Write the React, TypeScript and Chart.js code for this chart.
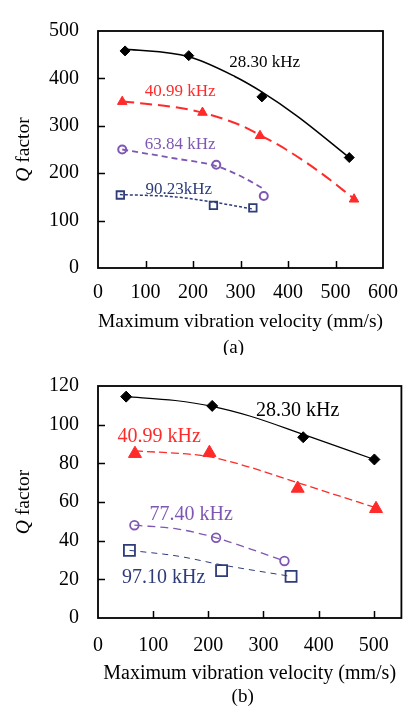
import React, { useEffect, useRef } from "react";
import { Chart, registerables } from "chart.js";

Chart.register(...registerables);

const SERIF = '"Liberation Serif", "Times New Roman", Times, serif';
const BLACK = "#000000";
const RED = "#ff2a2a";
const PURPLE = "#7e57b3";
const NAVY = "#2e3c7a";

// ---------- Panel (a) ----------
const aXTicks = [0, 100, 200, 300, 400, 500, 600];
const aYTicks = [0, 100, 200, 300, 400, 500];

const a28V = [57, 191, 345, 529];
const a28Q = [458, 448, 361, 233];
const a41V = [51, 220, 341, 539];
const a41Q = [351, 328, 279, 145];
const a64V = [51, 249, 349];
const a64Q = [250, 218, 152];
const a90V = [47, 243, 326];
const a90Q = [154, 132, 127];

// trend curves
const a28TrendV = [57, 190, 288, 344, 420, 529];
const a28TrendQ = [462, 446, 404, 372, 320, 233];
const a41TrendV = [51, 197, 298, 340, 396, 470, 539];
const a41TrendQ = [352, 333, 302, 281, 250, 200, 146];
const a64TrendV = [51, 163, 249, 300, 345];
const a64TrendQ = [250, 231, 215, 194, 169];
const a90TrendV = [46, 163, 243, 328];
const a90TrendQ = [155, 150, 139, 124];

// ---------- Panel (b) ----------
const bXTicks = [0, 100, 200, 300, 400, 500];
const bYTicks = [0, 20, 40, 60, 80, 100, 120];

const b28V = [51, 207, 372, 501];
const b28Q = [114.5, 109.7, 93.5, 82];
const b41V = [67, 202, 362, 504];
const b41Q = [85, 85.5, 67, 56.5];
const b77V = [66, 214, 338];
const b77Q = [48, 41.5, 29.5];
const b97V = [57, 224, 350];
const b97Q = [35, 24.5, 21.5];

const b28TrendV = [51, 140, 207, 275, 372, 501];
const b28TrendQ = [114.5, 112.5, 109.5, 104.5, 95, 82];
const b41TrendV = [67, 200, 275, 362, 504];
const b41TrendQ = [86.5, 83.5, 78, 70, 57];
const b77TrendV = [66, 145, 214, 278, 338];
const b77TrendQ = [48, 46, 41.5, 35.5, 29.5];
const b97TrendV = [57, 145, 224, 350];
const b97TrendQ = [35, 32, 27.5, 21.5];

const pts = (xs: number[], ys: number[]) => xs.map((x, i) => ({ x, y: ys[i] }));

type Label = { text: string; x: number; y: number; color: string };

interface PanelCfg {
  height: number;
  xMin: number;
  xMax: number;
  yMin: number;
  yMax: number;
  xTicks: number[];
  yTicks: number[];
  padding: { top: number; right: number; left: number; bottom: number };
  xAxisHeight: number;
  xTickPad: number;
  xTitlePadBottom: number;
  xTitleSize: number;
  labelSize: number;
  labels: Label[];
  caption: string;
  captionY: number;
  datasets: any[];
}

const markers = (
  xs: number[],
  ys: number[],
  style: string,
  r: number,
  color: string,
  hollow: boolean,
  bw: number
) => ({
  type: "scatter",
  data: pts(xs, ys),
  pointStyle: style,
  pointRadius: r,
  pointHoverRadius: r,
  backgroundColor: hollow ? "rgba(0,0,0,0)" : color,
  borderColor: color,
  pointBorderWidth: bw,
  borderWidth: bw,
  showLine: false,
  order: 0,
});

const trend = (xs: number[], ys: number[], color: string, width: number, dash: number[]) => ({
  type: "line",
  data: pts(xs, ys),
  borderColor: color,
  borderWidth: width,
  borderDash: dash,
  pointRadius: 0,
  cubicInterpolationMode: "monotone",
  fill: false,
  order: 1,
});

const panelA: PanelCfg = {
  height: 355,
  xMin: 0,
  xMax: 600,
  yMin: 0,
  yMax: 500,
  xTicks: aXTicks,
  yTicks: aYTicks,
  padding: { top: 17, right: 17, left: 0, bottom: 0 },
  xAxisHeight: 87,
  xTickPad: 13,
  xTitlePadBottom: 21.5,
  xTitleSize: 19.5,
  labelSize: 17,
  labels: [
    { text: "28.30 kHz", x: 351, y: 434, color: BLACK },
    { text: "40.99 kHz", x: 173, y: 373, color: RED },
    { text: "63.84 kHz", x: 173, y: 260, color: PURPLE },
    { text: "90.23kHz", x: 170, y: 166, color: NAVY },
  ],
  caption: "(a)",
  captionY: 348,
  datasets: [
    markers(a28V, a28Q, "rectRot", 5, BLACK, false, 1),
    markers(a41V, a41Q, "triangle", 5.5, RED, false, 1),
    markers(a64V, a64Q, "circle", 4, PURPLE, true, 2),
    markers(a90V, a90Q, "rect", 5.3, NAVY, true, 1.8),
    trend(a28TrendV, a28TrendQ, BLACK, 1.5, []),
    trend(a41TrendV, a41TrendQ, RED, 2, [12, 6]),
    trend(a64TrendV, a64TrendQ, PURPLE, 1.8, [6, 4]),
    trend(a90TrendV, a90TrendQ, NAVY, 1.5, [3, 2]),
  ],
};

const panelB: PanelCfg = {
  height: 351,
  xMin: 0,
  xMax: 550,
  yMin: 0,
  yMax: 120,
  xTicks: bXTicks,
  yTicks: bYTicks,
  padding: { top: 27, right: 8, left: 0, bottom: 0 },
  xAxisHeight: 88,
  xTickPad: 16,
  xTitlePadBottom: 20.5,
  xTitleSize: 20,
  labelSize: 20,
  labels: [
    { text: "28.30 kHz", x: 362, y: 107.4, color: BLACK },
    { text: "40.99 kHz", x: 111, y: 94, color: RED },
    { text: "77.40 kHz", x: 169, y: 53.4, color: PURPLE },
    { text: "97.10 kHz", x: 119, y: 20.8, color: NAVY },
  ],
  caption: "(b)",
  captionY: 342.5,
  datasets: [
    markers(b28V, b28Q, "rectRot", 5.5, BLACK, false, 1),
    markers(b41V, b41Q, "triangle", 7.5, RED, false, 1),
    markers(b77V, b77Q, "circle", 4.3, PURPLE, true, 1.8),
    markers(b97V, b97Q, "rect", 7.8, NAVY, true, 1.8),
    trend(b28TrendV, b28TrendQ, BLACK, 1.2, []),
    trend(b41TrendV, b41TrendQ, RED, 1.3, [8, 4]),
    trend(b77TrendV, b77TrendQ, PURPLE, 1.3, [8, 5]),
    trend(b97TrendV, b97TrendQ, NAVY, 1, [6, 5]),
  ],
};

function makeDecor(cfg: PanelCfg) {
  return {
    id: "decor",
    afterDraw(chart: any) {
      const { ctx, chartArea: a, scales } = chart;
      const xs = scales.x;
      const ys = scales.y;
      ctx.save();
      // inward tick marks
      ctx.strokeStyle = BLACK;
      ctx.lineWidth = 1.5;
      ctx.beginPath();
      xs.ticks.forEach((t: any) => {
        if (t.value <= cfg.xMin || t.value >= cfg.xMax) return;
        const px = Math.round(xs.getPixelForValue(t.value)) + 0.5;
        ctx.moveTo(px, a.bottom);
        ctx.lineTo(px, a.bottom - 7);
      });
      ys.ticks.forEach((t: any) => {
        if (t.value <= cfg.yMin || t.value >= cfg.yMax) return;
        const py = Math.round(ys.getPixelForValue(t.value)) + 0.5;
        ctx.moveTo(a.left, py);
        ctx.lineTo(a.left + 7, py);
      });
      ctx.stroke();
      // frame
      ctx.lineWidth = 1.8;
      ctx.strokeRect(a.left, a.top, a.right - a.left, a.bottom - a.top);

      // series labels
      ctx.textAlign = "center";
      ctx.textBaseline = "middle";
      ctx.font = `${cfg.labelSize}px ${SERIF}`;
      cfg.labels.forEach((l) => {
        ctx.fillStyle = l.color;
        ctx.fillText(l.text, xs.getPixelForValue(l.x), ys.getPixelForValue(l.y));
      });

      // y-axis title with italic Q
      ctx.save();
      ctx.translate(24, (a.top + a.bottom) / 2);
      ctx.rotate(-Math.PI / 2);
      ctx.fillStyle = BLACK;
      ctx.textAlign = "left";
      const italic = `italic 19.5px ${SERIF}`;
      const normal = `19.5px ${SERIF}`;
      ctx.font = italic;
      const wQ = ctx.measureText("Q").width;
      ctx.font = normal;
      const wRest = ctx.measureText(" factor").width;
      const start = -(wQ + wRest) / 2;
      ctx.font = italic;
      ctx.fillText("Q", start, 0);
      ctx.font = normal;
      ctx.fillText(" factor", start + wQ, 0);
      ctx.restore();

      // caption
      ctx.fillStyle = BLACK;
      ctx.textAlign = "center";
      ctx.font = `19px ${SERIF}`;
      ctx.fillText(cfg.caption, (a.left + a.right) / 2 - 7, cfg.captionY);
      ctx.restore();
    },
  };
}

function Panel({ cfg }: { cfg: PanelCfg }) {
  const ref = useRef<HTMLCanvasElement | null>(null);
  useEffect(() => {
    if (!ref.current) return;
    const chart = new Chart(ref.current, {
      type: "scatter",
      data: { datasets: cfg.datasets },
      options: {
        animation: false,
        responsive: true,
        maintainAspectRatio: false,
        events: [],
        layout: { padding: cfg.padding },
        plugins: {
          legend: { display: false },
          tooltip: { enabled: false },
          title: { display: false },
        },
        scales: {
          x: {
            type: "linear",
            min: cfg.xMin,
            max: cfg.xMax,
            afterBuildTicks: (s: any) => {
              s.ticks = cfg.xTicks.map((v) => ({ value: v }));
            },
            afterFit: (s: any) => {
              s.height = cfg.xAxisHeight;
            },
            grid: { display: false, drawTicks: false },
            border: { display: false },
            ticks: {
              color: BLACK,
              padding: cfg.xTickPad,
              maxRotation: 0,
              autoSkip: false,
              font: { family: SERIF, size: 20 },
            },
            title: {
              display: true,
              text: "Maximum vibration velocity (mm/s)",
              color: BLACK,
              font: { family: SERIF, size: cfg.xTitleSize },
              padding: { top: 0, bottom: cfg.xTitlePadBottom },
            },
          },
          y: {
            type: "linear",
            min: cfg.yMin,
            max: cfg.yMax,
            afterBuildTicks: (s: any) => {
              s.ticks = cfg.yTicks.map((v) => ({ value: v }));
            },
            afterFit: (s: any) => {
              s.width = 98;
            },
            grid: { display: false, drawTicks: false },
            border: { display: false },
            ticks: {
              color: BLACK,
              padding: 19,
              autoSkip: false,
              font: { family: SERIF, size: 20 },
            },
            title: { display: false },
          },
        },
      } as any,
      plugins: [makeDecor(cfg)],
    } as any);
    return () => chart.destroy();
  }, [cfg]);
  return (
    <div style={{ position: "relative", width: 411, height: cfg.height }}>
      <canvas ref={ref} />
    </div>
  );
}

export default function App() {
  return (
    <div
      style={{
        position: "absolute",
        left: 0,
        top: 0,
        width: 411,
        height: 706,
        background: "#ffffff",
        overflow: "hidden",
      }}
    >
      <Panel cfg={panelA} />
      <Panel cfg={panelB} />
    </div>
  );
}
